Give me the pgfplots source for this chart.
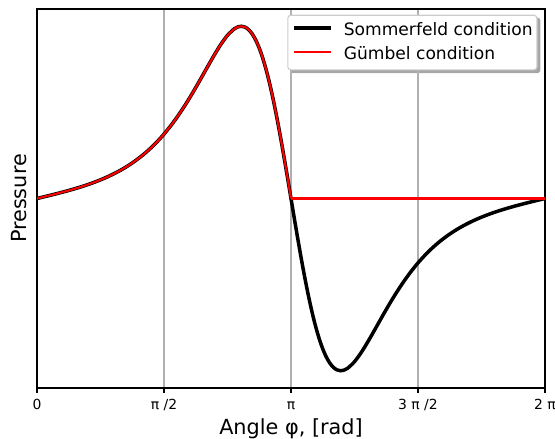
\documentclass[border=0pt]{standalone}
\usepackage{fontspec}
\setmainfont{DejaVu Sans}
\usepackage{pgfplots}
\usepackage{pgfplotstable}
\pgfplotsset{compat=1.18}

\definecolor{gridgray}{RGB}{176,176,176}
\definecolor{framegray}{RGB}{204,204,204}

\pgfdeclarelayer{shadowlayer}
\pgfsetlayers{shadowlayer,main}

% pressure over the bearing angle (degrees), full film
\pgfplotstableread{
phi p
0 0
5 0.02645
10 0.05329
15 0.08093
20 0.10980
25 0.14033
30 0.17303
35 0.20841
40 0.24707
45 0.28966
50 0.33690
55 0.38964
60 0.44877
65 0.51531
70 0.59035
75 0.67512
80 0.77082
85 0.87872
90 1.00000
95 1.13557
100 1.28593
105 1.45089
110 1.62917
115 1.81796
120 2.01229
125 2.20427
130 2.38300
135 2.53345
140 2.63741
142.5 2.66544
145 2.67391
147.5 2.66003
150 2.62110
152.5 2.55506
155 2.45995
157.5 2.33427
160 2.17750
162.5 1.98948
165 1.77140
167.5 1.52509
170 1.25343
172.5 0.96013
175 0.64987
177.5 0.32792
180 0
182.5 -0.32792
185 -0.64987
187.5 -0.96013
190 -1.25343
192.5 -1.52509
195 -1.77140
197.5 -1.98948
200 -2.17750
202.5 -2.33427
205 -2.45995
207.5 -2.55506
210 -2.62110
212.5 -2.66003
215 -2.67391
217.5 -2.66544
220 -2.63741
225 -2.53345
230 -2.38300
235 -2.20427
240 -2.01229
245 -1.81796
250 -1.62917
255 -1.45089
260 -1.28593
265 -1.13557
270 -1.00000
275 -0.87872
280 -0.77082
285 -0.67512
290 -0.59035
295 -0.51531
300 -0.44877
305 -0.38964
310 -0.33690
315 -0.28966
320 -0.24707
325 -0.20841
330 -0.17303
335 -0.14033
340 -0.10980
345 -0.08093
350 -0.05329
355 -0.02645
360 0
}\sommerfeld

% half film: positive part only, zero beyond pi
\pgfplotstableread{
phi p
0 0
5 0.02645
10 0.05329
15 0.08093
20 0.10980
25 0.14033
30 0.17303
35 0.20841
40 0.24707
45 0.28966
50 0.33690
55 0.38964
60 0.44877
65 0.51531
70 0.59035
75 0.67512
80 0.77082
85 0.87872
90 1.00000
95 1.13557
100 1.28593
105 1.45089
110 1.62917
115 1.81796
120 2.01229
125 2.20427
130 2.38300
135 2.53345
140 2.63741
142.5 2.66544
145 2.67391
147.5 2.66003
150 2.62110
152.5 2.55506
155 2.45995
157.5 2.33427
160 2.17750
162.5 1.98948
165 1.77140
167.5 1.52509
170 1.25343
172.5 0.96013
175 0.64987
177.5 0.32792
180 0
}\guembel

\begin{document}
\begin{tikzpicture}
\begin{axis}[
  scale only axis,
  width=508bp, height=379bp,
  xmin=0, xmax=360,
  ymin=-2.942, ymax=2.942,
  xtick={0,90,180,270,360},
  xticklabels={0, π /2, π, 3 π /2, 2 π},
  ytick=\empty,
  xtick pos=left,
  tick align=outside,
  major tick length=4.9bp,
  tick style={black, line width=1.1bp},
  axis line style={line width=1.1bp},
  xmajorgrids,
  grid style={gridgray, line width=1.1bp},
  xticklabel style={font=\fontsize{13.9bp}{16bp}\selectfont, anchor=base, inner sep=0pt, yshift=-17bp},
  xlabel={Angle φ, [rad]},
  ylabel={Pressure},
  xlabel style={font=\fontsize{20.8bp}{24bp}\selectfont, at={(axis description cs:0.5,-0.1222)}, anchor=base, inner sep=0pt},
  ylabel style={font=\fontsize{20.8bp}{24bp}\selectfont, at={(axis description cs:-0.0197,0.5)}, anchor=south, inner sep=0pt},
  legend cell align=left,
  legend image code/.code={\draw[#1] (0bp,2.3bp) -- (36.7bp,2.3bp);},
  legend style={
    name=lgd,
    at={(1,1)}, anchor=north east, xshift=-7.5bp, yshift=-5.7bp,
    draw=framegray, line width=1.1bp, fill=white, rounded corners=3bp,
    font=\fontsize{17.1bp}{20bp}\selectfont,
    inner xsep=4.3bp, inner ysep=5.3bp,
    row sep=4bp, column sep=11.5bp,
    nodes={inner xsep=0pt, inner ysep=0pt, text height=15bp, text depth=5bp},
  },
]
\addplot[black, line width=3.5bp, smooth] table[x=phi, y=p] {\sommerfeld};
\addlegendentry{Sommerfeld condition}
\addplot[red, line width=2.1bp, smooth] table[x=phi, y=p] {\guembel};
\addlegendentry{Gümbel condition}
\addplot[red, line width=2.1bp, forget plot] coordinates {(180,0) (360,0)};
\end{axis}
\begin{pgfonlayer}{shadowlayer}
  \fill[black, opacity=0.35, rounded corners=3bp]
    ([shift={(2.8bp,-2.8bp)}]lgd.south west) rectangle ([shift={(2.8bp,-2.8bp)}]lgd.north east);
\end{pgfonlayer}
\pgfresetboundingbox
\path[use as bounding box] ([shift={(-37bp,-51bp)}]current axis.south west) rectangle ([shift={(10bp,9bp)}]current axis.north east);
\end{tikzpicture}
\end{document}
